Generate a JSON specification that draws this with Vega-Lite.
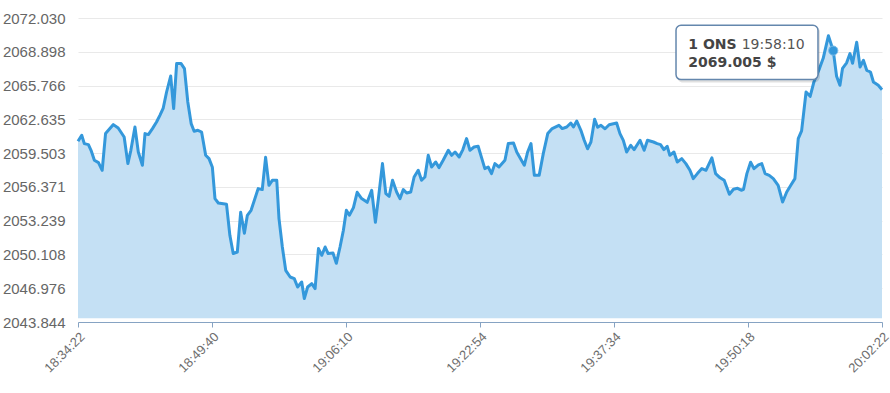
{
  "$schema": "https://vega.github.io/schema/vega-lite/v6.json",
  "width": 804,
  "height": 304,
  "autosize": {"type": "none"},
  "padding": {"left": 78, "top": 18, "right": 8, "bottom": 71},
  "background": "#ffffff",
  "config": {"view": {"stroke": null}},
  "datasets": {
    "tip": [{"item": "1 ONS", "time": "19:58:10", "price_label": "2069.005 $", "i": 202.9, "v": 2069.005}]
  },
  "data": {"values": [
    {"i":0,"v":2060.598},{"i":1.0,"v":2061.154},{"i":1.7,"v":2060.385},{"i":2.8,"v":2060.292},{"i":3.5,"v":2059.763},{"i":4.4,"v":2058.836},{"i":5.5,"v":2058.623},{"i":6.5,"v":2057.909},{"i":7.4,"v":2061.312},{"i":9.5,"v":2062.146},{"i":10.8,"v":2061.831},{"i":12.4,"v":2060.997},{"i":13.4,"v":2058.530},{"i":14.2,"v":2059.763},{"i":15.3,"v":2061.924},{"i":16.2,"v":2059.606},{"i":17.3,"v":2058.373},{"i":18.0,"v":2061.312},{"i":18.9,"v":2061.219},{"i":20.0,"v":2061.775},{"i":21.1,"v":2062.387},{"i":22.0,"v":2063.009},{"i":22.9,"v":2063.685},{"i":23.8,"v":2065.169},{"i":24.9,"v":2066.652},{"i":25.7,"v":2063.630},{"i":26.5,"v":2067.802},{"i":27.7,"v":2067.802},{"i":28.6,"v":2067.338},{"i":29.5,"v":2064.242},{"i":30.4,"v":2062.239},{"i":31.2,"v":2061.525},{"i":32.2,"v":2061.618},{"i":33.2,"v":2061.460},{"i":34.3,"v":2059.300},{"i":35.2,"v":2058.994},{"i":36.1,"v":2058.187},{"i":36.8,"v":2055.285},{"i":37.7,"v":2054.877},{"i":39.9,"v":2054.757},{"i":40.8,"v":2051.883},{"i":41.7,"v":2050.186},{"i":42.8,"v":2050.334},{"i":43.7,"v":2054.015},{"i":44.7,"v":2052.068},{"i":45.5,"v":2053.737},{"i":46.5,"v":2054.200},{"i":48.4,"v":2056.212},{"i":49.5,"v":2056.120},{"i":50.4,"v":2059.114},{"i":51.3,"v":2056.518},{"i":52.2,"v":2056.982},{"i":53.4,"v":2056.982},{"i":54.0,"v":2053.431},{"i":54.9,"v":2050.798},{"i":55.8,"v":2048.637},{"i":57.0,"v":2048.016},{"i":58.1,"v":2047.868},{"i":59.0,"v":2047.089},{"i":60.1,"v":2047.553},{"i":60.8,"v":2046.014},{"i":61.7,"v":2047.089},{"i":62.8,"v":2047.404},{"i":63.7,"v":2046.941},{"i":64.6,"v":2050.649},{"i":65.5,"v":2050.028},{"i":66.4,"v":2050.798},{"i":67.2,"v":2050.186},{"i":68.5,"v":2050.241},{"i":69.4,"v":2049.286},{"i":70.4,"v":2050.798},{"i":71.3,"v":2052.346},{"i":72.1,"v":2054.200},{"i":72.9,"v":2053.737},{"i":74.0,"v":2054.451},{"i":75.0,"v":2055.869},{"i":76.2,"v":2055.285},{"i":77.7,"v":2054.942},{"i":78.9,"v":2056.055},{"i":79.9,"v":2053.088},{"i":80.7,"v":2055.285},{"i":81.8,"v":2058.530},{"i":82.7,"v":2055.749},{"i":83.6,"v":2055.498},{"i":84.5,"v":2056.982},{"i":85.6,"v":2055.897},{"i":86.5,"v":2055.285},{"i":87.4,"v":2056.120},{"i":88.3,"v":2055.805},{"i":89.4,"v":2055.897},{"i":90.3,"v":2057.288},{"i":91.4,"v":2057.909},{"i":92.3,"v":2056.982},{"i":93.2,"v":2057.288},{"i":94.1,"v":2059.300},{"i":95.0,"v":2058.215},{"i":96.1,"v":2058.679},{"i":97.0,"v":2058.159},{"i":98.1,"v":2058.836},{"i":99.5,"v":2059.763},{"i":100.4,"v":2059.300},{"i":101.3,"v":2059.606},{"i":102.4,"v":2059.142},{"i":103.4,"v":2059.828},{"i":104.4,"v":2060.848},{"i":105.3,"v":2059.763},{"i":106.4,"v":2060.069},{"i":107.5,"v":2060.134},{"i":108.5,"v":2058.994},{"i":109.3,"v":2058.067},{"i":110.2,"v":2058.215},{"i":111.1,"v":2057.603},{"i":112.0,"v":2058.530},{"i":113.1,"v":2058.215},{"i":114.7,"v":2058.836},{"i":115.6,"v":2060.385},{"i":117.0,"v":2060.440},{"i":117.9,"v":2059.578},{"i":119.9,"v":2058.373},{"i":120.8,"v":2059.606},{"i":121.7,"v":2060.385},{"i":122.6,"v":2057.446},{"i":123.9,"v":2057.446},{"i":125.0,"v":2059.457},{"i":126.2,"v":2061.312},{"i":127.4,"v":2061.775},{"i":129.2,"v":2062.081},{"i":130.1,"v":2061.775},{"i":131.3,"v":2061.924},{"i":132.4,"v":2062.295},{"i":133.1,"v":2061.924},{"i":134.0,"v":2062.480},{"i":135.1,"v":2061.618},{"i":136.0,"v":2060.691},{"i":136.9,"v":2059.903},{"i":137.8,"v":2060.533},{"i":138.8,"v":2062.638},{"i":139.6,"v":2061.896},{"i":140.5,"v":2062.081},{"i":141.6,"v":2061.757},{"i":142.7,"v":2062.128},{"i":144.7,"v":2062.295},{"i":145.6,"v":2061.312},{"i":146.5,"v":2060.691},{"i":147.4,"v":2059.606},{"i":148.5,"v":2060.227},{"i":149.4,"v":2059.828},{"i":151.0,"v":2060.691},{"i":152.1,"v":2059.763},{"i":153.0,"v":2060.691},{"i":154.6,"v":2060.533},{"i":155.6,"v":2060.385},{"i":156.5,"v":2060.292},{"i":157.4,"v":2059.828},{"i":158.3,"v":2060.134},{"i":159.0,"v":2059.300},{"i":160.1,"v":2059.606},{"i":161.0,"v":2058.679},{"i":162.2,"v":2058.994},{"i":163.3,"v":2058.530},{"i":164.4,"v":2057.909},{"i":165.3,"v":2057.140},{"i":166.4,"v":2057.603},{"i":167.6,"v":2058.067},{"i":168.7,"v":2057.909},{"i":170.3,"v":2059.068},{"i":171.3,"v":2057.603},{"i":172.5,"v":2057.214},{"i":173.6,"v":2056.982},{"i":175.0,"v":2055.684},{"i":176.1,"v":2056.147},{"i":177.2,"v":2056.240},{"i":178.3,"v":2056.055},{"i":178.8,"v":2056.147},{"i":179.7,"v":2057.603},{"i":180.7,"v":2058.651},{"i":181.6,"v":2058.067},{"i":182.8,"v":2058.419},{"i":183.7,"v":2058.530},{"i":184.6,"v":2057.603},{"i":185.7,"v":2057.446},{"i":186.8,"v":2057.140},{"i":188.1,"v":2056.518},{"i":189.3,"v":2054.970},{"i":190.4,"v":2055.897},{"i":191.5,"v":2056.518},{"i":192.6,"v":2057.140},{"i":193.5,"v":2060.848},{"i":194.4,"v":2061.571},{"i":195.6,"v":2065.169},{"i":196.7,"v":2064.770},{"i":197.7,"v":2066.096},{"i":199.2,"v":2067.338},{"i":200.2,"v":2068.293},{"i":201.6,"v":2070.380},{"i":202.9,"v":2069.005},{"i":203.8,"v":2066.625},{"i":204.7,"v":2065.790},{"i":205.4,"v":2067.366},{"i":206.5,"v":2067.876},{"i":207.4,"v":2068.729},{"i":208.1,"v":2067.830},{"i":209.2,"v":2069.777},{"i":210.1,"v":2067.487},{"i":211.0,"v":2068.108},{"i":211.9,"v":2067.181},{"i":212.9,"v":2067.023},{"i":213.7,"v":2066.096},{"i":215.0,"v":2065.790},{"i":216,"v":2065.373}
  ]},
  "layer": [
    {
      "mark": {"type": "area", "fill": "#c4e0f4", "opacity": 1},
      "encoding": {
        "x": {"field": "i", "type": "quantitative",
          "scale": {"domain": [0, 216], "nice": false, "zero": false},
          "axis": {"title": null, "values": [0, 36, 72, 108, 144, 180, 216], "tickCount": 20,
            "labelExpr": "['18:34:22','18:49:40','19:06:10','19:22:54','19:37:34','19:50:18','20:02:22'][round(datum.value/36)]",
            "grid": false, "domainColor": "#86a3c3", "tickColor": "#86a3c3", "tickSize": 5,
            "labelAngle": -45, "labelFont": "Liberation Sans", "labelFontSize": 13, "labelColor": "#6e6e6e", "labelPadding": 3,
            "labelFlush": false, "labelOverlap": false, "labelBound": false}},
        "y": {"field": "v", "type": "quantitative",
          "scale": {"domain": [2043.844, 2072.030], "nice": false, "zero": false},
          "axis": {"title": null, "values": [2043.844, 2046.976, 2050.108, 2053.239, 2056.371, 2059.503, 2062.635, 2065.766, 2068.898, 2072.030], "tickCount": 20,
            "format": ".3f", "grid": true, "gridColor": "#e9e9e9", "domain": false, "ticks": false,
            "labelFont": "Liberation Sans", "labelFontSize": 15, "labelColor": "#666666", "labelPadding": 13,
            "labelFlush": false, "labelOverlap": false, "labelBound": false}},
        "y2": {"datum": 2044.2}
      }
    },
    {
      "mark": {"type": "line", "stroke": "#3498db", "strokeWidth": 3, "strokeJoin": "round"},
      "encoding": {
        "x": {"field": "i", "type": "quantitative"},
        "y": {"field": "v", "type": "quantitative"}
      }
    },
    {
      "data": {"name": "tip"},
      "mark": {"type": "point", "filled": true, "fill": "#3498db", "opacity": 1, "size": 85, "stroke": "#7bbce8", "strokeWidth": 1},
      "encoding": {
        "x": {"field": "i", "type": "quantitative"},
        "y": {"field": "v", "type": "quantitative"}
      }
    },
    {
      "data": {"name": "tip"},
      "mark": {"type": "rect", "fill": "#000000", "opacity": 0.12, "cornerRadius": 6, "xOffset": 1, "x2Offset": 2, "yOffset": 1, "y2Offset": 3},
      "encoding": {
        "x": {"datum": 160.66, "type": "quantitative"},
        "x2": {"datum": 198.8},
        "y": {"datum": 2071.353, "type": "quantitative"},
        "y2": {"datum": 2066.319}
      }
    },
    {
      "data": {"name": "tip"},
      "mark": {"type": "rect", "fill": "#ffffff", "stroke": "#6487ad", "strokeWidth": 1.5, "cornerRadius": 5},
      "encoding": {
        "x": {"datum": 160.66, "type": "quantitative"},
        "x2": {"datum": 198.8},
        "y": {"datum": 2071.353, "type": "quantitative"},
        "y2": {"datum": 2066.319}
      }
    },
    {
      "data": {"name": "tip"},
      "mark": {"type": "text", "align": "left", "baseline": "alphabetic", "font": "DejaVu Sans", "fontSize": 14, "fontWeight": "bold", "fill": "#444444"},
      "encoding": {
        "x": {"datum": 163.96, "type": "quantitative"},
        "y": {"datum": 2069.193, "type": "quantitative"},
        "text": {"field": "item"}
      }
    },
    {
      "data": {"name": "tip"},
      "mark": {"type": "text", "align": "left", "baseline": "alphabetic", "font": "DejaVu Sans", "fontSize": 14, "fontWeight": "normal", "fill": "#555555"},
      "encoding": {
        "x": {"datum": 178.3, "type": "quantitative"},
        "y": {"datum": 2069.193, "type": "quantitative"},
        "text": {"field": "time"}
      }
    },
    {
      "data": {"name": "tip"},
      "mark": {"type": "text", "align": "left", "baseline": "alphabetic", "font": "DejaVu Sans", "fontSize": 14, "fontWeight": "bold", "fill": "#444444"},
      "encoding": {
        "x": {"datum": 163.96, "type": "quantitative"},
        "y": {"datum": 2067.487, "type": "quantitative"},
        "text": {"field": "price_label"}
      }
    }
  ]
}
